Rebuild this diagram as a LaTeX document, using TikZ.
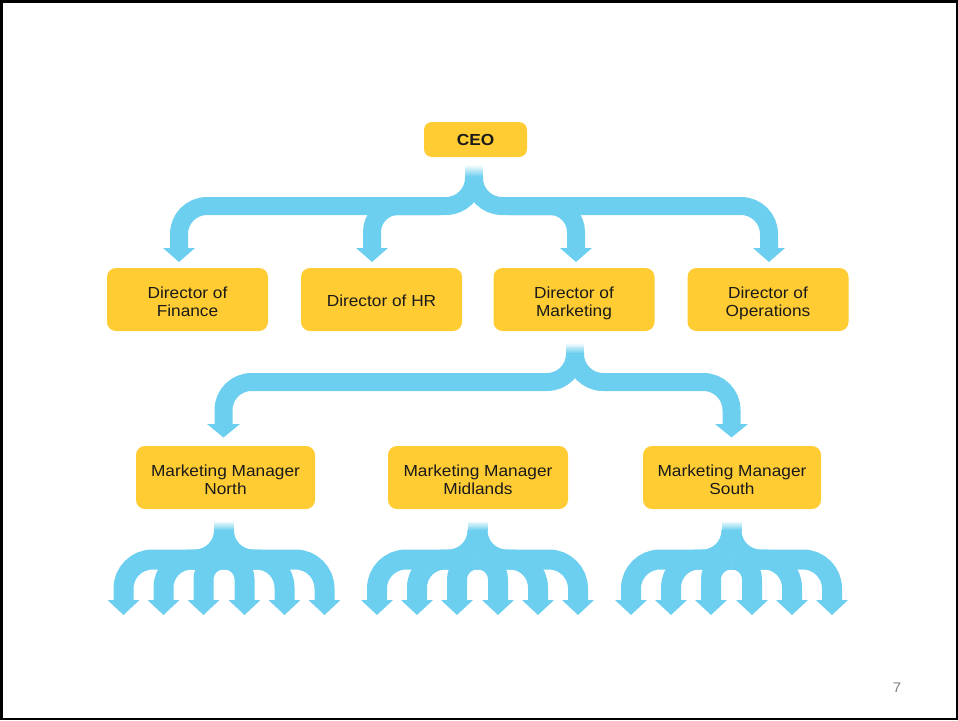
\documentclass[tikz,border=0pt]{standalone}
\usepackage{fontspec}
\setmainfont{Liberation Sans}[FakeStretch=1.08]
\usetikzlibrary{calc}
\definecolor{boxyellow}{HTML}{FFCC33}
\definecolor{flowblue}{HTML}{6DCFEF}
\definecolor{txt}{HTML}{1A1A1A}
% fading stem top: #1 centre x, #2 half width, #3 top y, #4 bottom y
\newcommand\drawfadestem[4]{%
  \foreach \i in {0,...,11}{%
    \pgfmathsetmacro\pct{(\i+0.5)/12*100}%
    \pgfmathsetmacro\ya{#3+(#4-#3)*\i/12}%
    \pgfmathsetmacro\yb{#3+(#4-#3)*(\i+1)/12+0.3}%
    \fill[flowblue!\pct!white] ({#1-#2},\ya) rectangle ({#1+#2},\yb);
  }}
\begin{document}
\begin{tikzpicture}[x=1pt,y=-1pt,
  orgbox/.style={fill=boxyellow, rounded corners=9pt, minimum height=63pt, inner sep=0pt,
    align=center, text=txt, font=\fontsize{16}{18}\selectfont, text height=34pt, text depth=0pt},
  oneline/.style={text height=13pt, text depth=0pt},
  flow/.style={draw=flowblue, line width=18pt, line cap=butt},
  fanflow/.style={draw=flowblue, line width=20pt, line cap=butt},
  head/.style={fill=flowblue, draw=none}]
\useasboundingbox (0,0) rectangle (958,720);
\draw[line width=2.5pt] (1.25,1.25) rectangle (956.75,718.75);

% boxes
\node[orgbox, minimum width=103pt, minimum height=35pt, rounded corners=8pt, oneline,
  text height=12pt, font=\bfseries\fontsize{16}{18}\selectfont] (ceo) at (475.5,139.5) {CEO};
\node[orgbox, minimum width=161pt] (fin) at (187.5,299.5) {Director of\\Finance};
\node[orgbox, minimum width=161pt, oneline] (hr) at (381.5,299.5) {Director of HR};
\node[orgbox, minimum width=161pt] (mkt) at (574,299.5) {Director of\\Marketing};
\node[orgbox, minimum width=161pt] (ops) at (768,299.5) {Director of\\Operations};
\node[orgbox, minimum width=179pt] (north) at (225.5,477.5) {Marketing Manager\\North};
\node[orgbox, minimum width=180pt] (mid) at (478,477.5) {Marketing Manager\\Midlands};
\node[orgbox, minimum width=178pt] (south) at (732,477.5) {Marketing Manager\\South};

% level 1 connector
\drawfadestem{474}{9}{165}{177.5}
\draw[flow, rounded corners=28pt] (474,177) -- (474,206) -- (179,206) -- (179,248.5);
\draw[flow, rounded corners=28pt] (474,177) -- (474,206) -- (769,206) -- (769,248.5);
\draw[flow, rounded corners=26pt] (440,206) -- (372,206) -- (372,248.5);
\draw[flow, rounded corners=26pt] (508,206) -- (576,206) -- (576,248.5);
\foreach \ax in {179,372,576,769}{
  \fill[head] ({\ax-16},248) -- ({\ax+16},248) -- (\ax,262) -- cycle;
}

% level 2 connector
\drawfadestem{575}{9}{343}{353.5}
\draw[flow, rounded corners=28pt] (575,353) -- (575,382) -- (223.5,382) -- (223.5,424.5);
\draw[flow, rounded corners=28pt] (575,353) -- (575,382) -- (731.5,382) -- (731.5,424.5);
\foreach \ax in {223.5,731.5}{
  \fill[head] ({\ax-16.5},424) -- ({\ax+16.5},424) -- (\ax,437.5) -- cycle;
}

% fans below managers
\foreach \cx in {224,477.5,731.5}{
  \drawfadestem{\cx}{10}{521}{530.5}
  \draw[fanflow, rounded corners=29pt] (\cx,530) -- (\cx,559.5) -- ({\cx-100.5},559.5) -- ({\cx-100.5},600.5);
  \draw[fanflow, rounded corners=29pt] (\cx,530) -- (\cx,559.5) -- ({\cx+100.5},559.5) -- ({\cx+100.5},600.5);
  \draw[fanflow, rounded corners=28pt] (\cx,559.5) -- ({\cx-60.5},559.5) -- ({\cx-60.5},600.5);
  \draw[fanflow, rounded corners=28pt] (\cx,559.5) -- ({\cx+60.5},559.5) -- ({\cx+60.5},600.5);
  \draw[fanflow, rounded corners=20pt] (\cx,559.5) -- ({\cx-20.5},559.5) -- ({\cx-20.5},600.5);
  \draw[fanflow, rounded corners=20pt] (\cx,559.5) -- ({\cx+20.5},559.5) -- ({\cx+20.5},600.5);
  \foreach \dx in {-100.5,-60.5,-20.5,20.5,60.5,100.5}{
    \fill[head] ({\cx+\dx-16},600) -- ({\cx+\dx+16},600) -- ({\cx+\dx},615) -- cycle;
  }
}

% page number
\node[text=black!50, font=\fontsize{14}{16}\selectfont] (pg) at (897,688) {7};
\end{tikzpicture}
\end{document}
